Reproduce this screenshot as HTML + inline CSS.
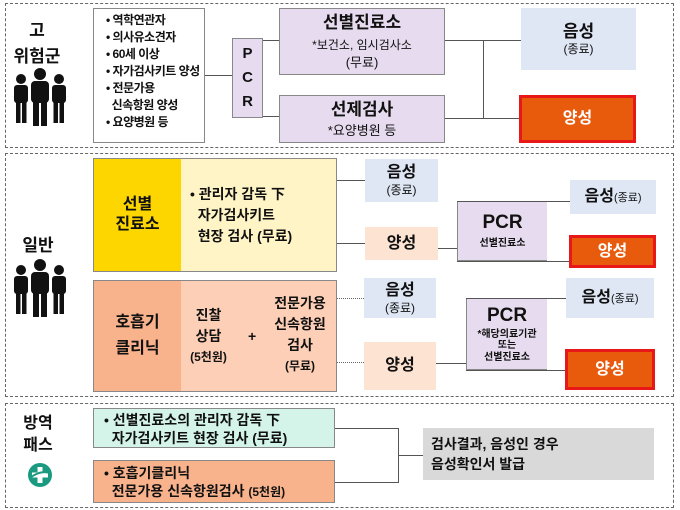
<!DOCTYPE html>
<html><head><meta charset="utf-8"><style>
body{margin:0;width:680px;height:510px;background:#fff;position:relative;overflow:hidden;font-family:"Liberation Sans","Noto Sans CJK KR",sans-serif;color:#111}
.a{position:absolute;box-sizing:border-box}
.sec{border:1.5px dashed #666;background:#fff}
.bx{border:1px solid #888;display:flex;flex-direction:column;align-items:center;justify-content:center;text-align:center;line-height:1.25}
.nb{border:none}
.b{font-weight:bold}
.ln{position:absolute;background:#555}
.dl{position:absolute;border-top:1px dotted #666;height:0}
.lav{background:#e7dcef}
.blu{background:#dfe6f4}
.pk{background:#fde3d2}
.or{background:#e85a0c;border:3px solid #e81818;color:#fff;font-weight:bold;font-size:16px}
</style></head><body>
<!-- section 1 -->
<div class="a sec" style="left:5px;top:3px;width:669px;height:145px"></div>
<div class="a b" style="left:22px;top:16px;width:30px;text-align:center;font-size:17px">고</div>
<div class="a b" style="left:12px;top:42px;width:50px;text-align:center;font-size:17px">위험군</div>
<svg class="a" style="left:10px;top:68px" width="60" height="60" viewBox="0 0 60 60"><g fill="#111"><circle cx="30" cy="6" r="6"/><rect x="21" y="13" width="18" height="22" rx="4"/><rect x="23" y="33" width="6" height="25"/><rect x="31" y="33" width="6" height="25"/><circle cx="11" cy="11" r="5"/><rect x="4" y="17" width="14" height="18" rx="3"/><rect x="6" y="33" width="4.5" height="22"/><rect x="12" y="33" width="4.5" height="22"/><circle cx="49" cy="11" r="5"/><rect x="42" y="17" width="14" height="18" rx="3"/><rect x="43.5" y="33" width="4.5" height="22"/><rect x="49.5" y="33" width="4.5" height="22"/></g></svg>
<div class="a" style="left:93px;top:8px;width:112px;height:135px;border:1px solid #888;font-size:12px;line-height:17px;padding:3px 0 0 12px;font-weight:bold;letter-spacing:-0.5px">• 역학연관자<br>• 의사유소견자<br>• 60세 이상<br>• 자가검사키트 양성<br>• 전문가용<br>&nbsp;&nbsp;신속항원 양성<br>• 요양병원 등</div>
<div class="ln" style="left:205px;top:75px;width:27px;height:1px"></div>
<div class="a bx lav b" style="left:232px;top:38px;width:31px;height:80px;font-size:15px;line-height:24px">P<br>C<br>R</div>
<div class="ln" style="left:263px;top:40px;width:16px;height:1px"></div>
<div class="ln" style="left:263px;top:116px;width:16px;height:1px"></div>
<div class="a bx lav" style="left:279px;top:8px;width:166px;height:67px;font-size:12px"><div class="b" style="font-size:17px">선별진료소</div><div style="margin-top:4px">*보건소, 임시검사소</div><div style="font-size:13px;margin-top:2px">(무료)</div></div>
<div class="a bx lav" style="left:279px;top:95px;width:166px;height:48px;font-size:13px"><div class="b" style="font-size:17px">선제검사</div><div style="margin-top:3px">*요양병원 등</div></div>
<div class="ln" style="left:445px;top:40px;width:76px;height:1px"></div>
<div class="ln" style="left:445px;top:118px;width:76px;height:1px"></div>
<div class="ln" style="left:483px;top:40px;width:1px;height:79px"></div>
<div class="a bx blu nb" style="left:521px;top:8px;width:115px;height:62px"><div class="b" style="font-size:17px">음성</div><div style="font-size:12px">(종료)</div></div>
<div class="a bx or" style="left:519px;top:95px;width:117px;height:48px">양성</div>

<!-- section 2 -->
<div class="a sec" style="left:5px;top:153px;width:669px;height:244px"></div>
<div class="a b" style="left:18px;top:231px;width:40px;text-align:center;font-size:17px">일반</div>
<svg class="a" style="left:10px;top:258px" width="60" height="62" viewBox="0 0 60 60"><g fill="#111"><circle cx="30" cy="6" r="6"/><rect x="21" y="13" width="18" height="22" rx="4"/><rect x="23" y="33" width="6" height="25"/><rect x="31" y="33" width="6" height="25"/><circle cx="11" cy="11" r="5"/><rect x="4" y="17" width="14" height="18" rx="3"/><rect x="6" y="33" width="4.5" height="22"/><rect x="12" y="33" width="4.5" height="22"/><circle cx="49" cy="11" r="5"/><rect x="42" y="17" width="14" height="18" rx="3"/><rect x="43.5" y="33" width="4.5" height="22"/><rect x="49.5" y="33" width="4.5" height="22"/></g></svg>
<div class="a" style="left:93px;top:158px;width:244px;height:114px;border:1px solid #888;background:#fff4c6"></div>
<div class="a bx b" style="left:93px;top:158px;width:88px;height:114px;background:#fdd600;border:1px solid #888;border-right:none;font-size:16px">선별<br>진료소</div>
<div class="a b" style="left:190px;top:184px;width:145px;font-size:14px;line-height:21px">• 관리자 감독 下<br>&nbsp;&nbsp;자가검사키트<br>&nbsp;&nbsp;현장 검사 (무료)</div>
<div class="a" style="left:93px;top:280px;width:244px;height:112px;border:1px solid #888;background:#fccfb6"></div>
<div class="a bx b" style="left:93px;top:280px;width:88px;height:112px;background:#f8b28c;border:1px solid #888;border-right:none;font-size:16px;line-height:26px">호흡기<br>클리닉</div>
<div class="a bx b nb" style="left:181px;top:305px;width:55px;font-size:14px;line-height:21px">진찰<br>상담<br><span style="font-size:12px">(5천원)</span></div>
<div class="a b" style="left:248px;top:328px;font-size:14px">+</div>
<div class="a bx b nb" style="left:264px;top:293px;width:72px;font-size:14px;line-height:21px">전문가용<br>신속항원<br>검사<br><span style="font-size:12px">(무료)</span></div>
<div class="ln" style="left:337px;top:180px;width:28px;height:1px"></div>
<div class="ln" style="left:337px;top:243px;width:28px;height:1px"></div>
<div class="a bx blu nb" style="left:365px;top:159px;width:73px;height:43px"><div class="b" style="font-size:16px">음성</div><div style="font-size:12px">(종료)</div></div>
<div class="a bx pk b nb" style="left:365px;top:227px;width:73px;height:33px;font-size:16px">양성</div>
<div class="ln" style="left:438px;top:248px;width:19px;height:1px"></div>
<div class="a bx lav" style="left:457px;top:201px;width:90px;height:60px;border:1px solid #888;border-right:none"><div class="b" style="font-size:19px">PCR</div><div class="b" style="font-size:10px;margin-top:3px">선별진료소</div></div>
<div class="ln" style="left:457px;top:201px;width:113px;height:1px"></div>
<div class="ln" style="left:457px;top:261px;width:113px;height:1px"></div>
<div class="a bx blu nb" style="left:570px;top:180px;width:86px;height:34px"><div><span class="b" style="font-size:16px">음성</span><span style="font-size:11px">(종료)</span></div></div>
<div class="a bx or" style="left:569px;top:235px;width:87px;height:33px">양성</div>
<div class="dl" style="left:337px;top:298px;width:27px"></div>
<div class="dl" style="left:337px;top:362px;width:27px"></div>
<div class="a bx blu nb" style="left:364px;top:278px;width:72px;height:40px"><div class="b" style="font-size:16px">음성</div><div style="font-size:12px">(종료)</div></div>
<div class="a bx pk b nb" style="left:364px;top:342px;width:72px;height:48px;font-size:16px">양성</div>
<div class="ln" style="left:436px;top:363px;width:30px;height:1px"></div>
<div class="a bx lav" style="left:466px;top:298px;width:81px;height:72px;border:1px solid #888;border-right:none;line-height:1.15"><div class="b" style="font-size:19px">PCR</div><div class="b" style="font-size:10px;margin-top:2px">*해당의료기관<br>또는<br>선별진료소</div></div>
<div class="ln" style="left:466px;top:298px;width:100px;height:1px"></div>
<div class="ln" style="left:466px;top:370px;width:100px;height:1px"></div>
<div class="a bx blu nb" style="left:566px;top:278px;width:88px;height:40px"><div><span class="b" style="font-size:16px">음성</span><span style="font-size:11px">(종료)</span></div></div>
<div class="a bx or" style="left:565px;top:349px;width:90px;height:41px">양성</div>

<!-- section 3 -->
<div class="a sec" style="left:5px;top:403px;width:669px;height:105px"></div>
<div class="a b" style="left:18px;top:413px;width:40px;text-align:center;font-size:16px;line-height:22px">방역<br>패스</div>
<svg class="a" style="left:27px;top:462px" width="26" height="26" viewBox="0 0 26 26"><circle cx="13" cy="13" r="12" fill="#1a9a80"/><rect x="10.5" y="5" width="5" height="16" fill="#fff"/><rect x="5" y="10.5" width="16" height="5" fill="#fff"/><path d="M3 16 Q13 8 23 11" stroke="#1a9a80" stroke-width="2" fill="none"/></svg>
<div class="a b" style="left:93px;top:408px;width:242px;height:40px;border:1px solid #888;background:#d4f4ea;font-size:14px;line-height:18px;padding:2px 0 0 10px">• 선별진료소의 관리자 감독 下<br>&nbsp;&nbsp;자가검사키트 현장 검사 (무료)</div>
<div class="a b" style="left:93px;top:460px;width:242px;height:43px;border:1px solid #888;background:#f8b28c;font-size:14px;line-height:18px;padding:3px 0 0 10px">• 호흡기클리닉<br>&nbsp;&nbsp;전문가용 신속항원검사 <span style="font-size:12px">(5천원)</span></div>
<div class="ln" style="left:335px;top:428px;width:63px;height:1px"></div>
<div class="ln" style="left:335px;top:482px;width:63px;height:1px"></div>
<div class="ln" style="left:398px;top:428px;width:1px;height:55px"></div>
<div class="ln" style="left:398px;top:455px;width:25px;height:1px"></div>
<div class="a b" style="left:423px;top:428px;width:231px;height:52px;background:#d9d9d9;font-size:14px;line-height:20px;padding:6px 0 0 8px">검사결과, 음성인 경우<br>음성확인서 발급</div>
</body></html>
